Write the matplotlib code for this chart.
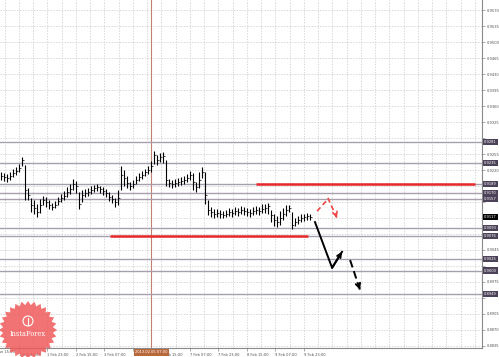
import numpy as np
import matplotlib
matplotlib.use("Agg")
import matplotlib.pyplot as plt
from matplotlib.transforms import blended_transform_factory
from matplotlib.patches import Polygon, Circle

# ---------------- data ----------------
close = [.9207, .9205, .9203, .9207, .9213, .9218, .9224, .9242, .9176, .9165,
         .9143, .9137, .9128, .9143, .9154, .9150, .9143, .9139, .9143, .9152,
         .9159, .9163, .9172, .9178, .9189, .9185, .9146, .9165, .9170, .9172,
         .9176, .9181, .9183, .9178, .9174, .9170, .9161, .9157, .9150, .9159,
         .9209, .9203, .9192, .9185, .9189, .9198, .9205, .9209, .9216, .9220,
         .9229, .9253, .9242, .9249, .9251, .9198, .9192, .9189, .9192, .9194,
         .9196, .9198, .9203, .9209, .9194, .9183, .9198, .9216, .9165, .9132,
         .9128, .9124, .9126, .9124, .9122, .9124, .9128, .9126, .9130, .9128,
         .9132, .9130, .9128, .9126, .9130, .9132, .9130, .9135, .9137, .9141,
         .9122, .9111, .9106, .9115, .9124, .9132, .9137, .9100, .9106, .9111,
         .9115, .9117, .9119, .9117]
high = [.9216, .9213, .9211, .9216, .9222, .9227, .9233, .9249, .9231, .9181,
        .9159, .9154, .9146, .9157, .9163, .9161, .9154, .9148, .9152, .9161,
        .9167, .9174, .9183, .9189, .9200, .9196, .9172, .9176, .9178, .9181,
        .9185, .9187, .9189, .9185, .9183, .9178, .9172, .9165, .9159, .9176,
        .9229, .9220, .9207, .9194, .9198, .9207, .9213, .9218, .9222, .9229,
        .9240, .9262, .9253, .9257, .9259, .9242, .9200, .9198, .9200, .9203,
        .9205, .9207, .9211, .9218, .9213, .9194, .9216, .9227, .9216, .9154,
        .9139, .9135, .9135, .9132, .9130, .9132, .9137, .9135, .9139, .9137,
        .9141, .9139, .9137, .9135, .9139, .9141, .9139, .9146, .9146, .9148,
        .9132, .9124, .9119, .9130, .9137, .9143, .9143, .9128, .9115, .9119,
        .9124, .9124, .9126, .9124]
low = [.9198, .9196, .9194, .9198, .9205, .9209, .9216, .9229, .9154, .9154,
       .9128, .9124, .9117, .9126, .9143, .9139, .9135, .9132, .9137, .9143,
       .9150, .9154, .9161, .9167, .9176, .9170, .9135, .9150, .9161, .9163,
       .9167, .9172, .9174, .9170, .9165, .9161, .9152, .9148, .9139, .9143,
       .9176, .9185, .9181, .9176, .9181, .9189, .9196, .9200, .9207, .9211,
       .9216, .9233, .9231, .9238, .9235, .9185, .9183, .9181, .9183, .9185,
       .9187, .9189, .9194, .9198, .9176, .9172, .9181, .9203, .9146, .9122,
       .9117, .9115, .9117, .9115, .9115, .9117, .9119, .9117, .9122, .9119,
       .9124, .9122, .9119, .9117, .9122, .9124, .9122, .9126, .9126, .9124,
       .9106, .9097, .9095, .9100, .9111, .9119, .9128, .9091, .9097, .9102,
       .9106, .9108, .9111, .9111]

levels = [.9281, .9235, .9189, .9170, .9157, .9093, .9076, .9025, .9000, .8949]
current_price = .9117
red_upper = .9189
red_lower = .9076
red_upper_span = (84.8, 157.8)
red_lower_span = (36.2, 102.2)

ytick_vals = [0.9570 - 0.0035 * k for k in range(22)]

time_tick_pos = [5.83 + 9.5 * k for k in range(11)]
time_tick_lab = ["1 Feb 07:00", "1 Feb 23:00", "2 Feb 15:00", "3 Feb 07:00",
                 "", "6 Feb 15:00", "7 Feb 07:00", "7 Feb 23:00",
                 "8 Feb 15:00", "9 Feb 07:00", "9 Feb 23:00"]
first_time_label = "31 Jan 15:00"
crosshair_x = 50.0
crosshair_label = "2013.02.05 07:00"

# forecast paths
black_x = [104.5, 110.2, 113.5]
black_y = [.9106, .9006, .9041]
black_dash_x = [116.2, 119.5]
black_dash_y = [.9023, .8958]
red_x1 = [105.2, 108.5]
red_y1 = [.9130, .9154]
red_x2 = [108.8, 111.8]
red_y2 = [.9159, .9115]

# ---------------- figure ----------------
W, H = 499, 357
fig = plt.figure(figsize=(W / 100, H / 100), dpi=100)
fig.patch.set_facecolor("white")
ax = fig.add_axes([0, 9 / H, 482 / W, 348 / H])
ax.set_xlim(-0.5, 160.17)
ax.set_ylim(0.88306, 0.95919)
ax.set_facecolor("white")

# grid
for yv in ytick_vals:
    ax.axhline(yv, color="#c8c8c8", lw=0.5, ls=(0, (2, 2)), zorder=0)
for xv in np.arange(5.83 - 4.75, 161, 4.75):
    ax.axvline(xv, color="#c8c8c8", lw=0.5, ls=(0, (2, 2)), zorder=0)

# crosshair
ax.axvline(crosshair_x, color="#c4806e", lw=0.8, zorder=1)

# level lines
for lv in levels:
    ax.axhline(lv, color="#a79fae", lw=1.0, zorder=2)
ax.hlines(red_upper, *red_upper_span, color="#e8282a", lw=1.8, zorder=3)
ax.hlines(red_lower, *red_lower_span, color="#e8282a", lw=1.8, zorder=3)

# bars
xs = np.arange(len(close))
ax.vlines(xs, low, high, color="black", lw=0.8, zorder=4)
ax.hlines(close, xs, xs + 0.35, color="black", lw=0.5, zorder=4)

# forecast arrows
ax.plot(black_x, black_y, color="black", lw=1.4, zorder=5)
ax.annotate("", xy=(black_x[-1], black_y[-1]), xytext=(black_x[-2], black_y[-2]),
            arrowprops=dict(arrowstyle="->", color="black", lw=1.4,
                            mutation_scale=7, shrinkA=0, shrinkB=0), zorder=5)
ax.plot(black_dash_x, black_dash_y, color="black", lw=1.4, ls=(0, (4, 2)), zorder=5)
ax.annotate("", xy=(black_dash_x[-1], black_dash_y[-1]),
            xytext=(black_dash_x[-1] - 0.4, black_dash_y[-1] + 0.0008),
            arrowprops=dict(arrowstyle="->", color="black", lw=1.4,
                            mutation_scale=8, shrinkA=0, shrinkB=0), zorder=5)
ax.plot(red_x1, red_y1, color="#f04848", lw=1.2, ls=(0, (3, 2)), zorder=5)
ax.plot(red_x2, red_y2, color="#f04848", lw=1.2, ls=(0, (3, 2)), zorder=5)
ax.annotate("", xy=(red_x2[-1], red_y2[-1]),
            xytext=(red_x2[-1] - 0.3, red_y2[-1] + 0.0006),
            arrowprops=dict(arrowstyle="->", color="#f04848", lw=1.2,
                            mutation_scale=8, shrinkA=0, shrinkB=0), zorder=5)

# axes styling
for s in ["left", "top"]:
    ax.spines[s].set_visible(False)
for s in ["right", "bottom"]:
    ax.spines[s].set_color("#8a8a8a")
    ax.spines[s].set_linewidth(0.8)

# regular right-hand price labels (those hidden behind level boxes omitted)
marked = levels + [current_price]
ax.yaxis.tick_right()
ax.set_yticks(ytick_vals)
ax.set_yticklabels([("" if min(abs(v - m) for m in marked) < 0.0011 else f"{v:.4f}")
                    for v in ytick_vals])
ax.tick_params(axis="y", labelsize=2.6, length=2, pad=1.5, colors="#8a8a8a",
               labelcolor="#505050", width=0.5)

ax.set_xticks(time_tick_pos)
ax.set_xticklabels(time_tick_lab)
ax.tick_params(axis="x", labelsize=2.6, length=2, pad=1.5, colors="#8a8a8a",
               labelcolor="#505050", width=0.5)
for lab in ax.get_xticklabels():
    lab.set_horizontalalignment("left")
ax.text(-3.2, -0.006, first_time_label,
        transform=blended_transform_factory(ax.transData, ax.transAxes),
        fontsize=2.6, color="#505050", ha="left", va="top", clip_on=False)

# highlighted level labels
ty = blended_transform_factory(ax.transAxes, ax.transData)
for lv in levels:
    ax.text(1.004, lv, f"{lv:.4f}", transform=ty, fontsize=2.6, color="white",
            ha="left", va="center", clip_on=False, zorder=10,
            bbox=dict(boxstyle="square,pad=0.35", fc="#4d4359", ec="none"))
ax.text(1.004, current_price, f"{current_price:.4f}", transform=ty, fontsize=2.6,
        color="white", ha="left", va="center", clip_on=False, zorder=11,
        bbox=dict(boxstyle="square,pad=0.35", fc="black", ec="none"))

# crosshair time label
tx = blended_transform_factory(ax.transData, ax.transAxes)
ax.text(crosshair_x, -0.006, crosshair_label, transform=tx, fontsize=2.6,
        color="white", ha="center", va="top", clip_on=False, zorder=11,
        bbox=dict(boxstyle="square,pad=0.4", fc="#b8683a", ec="none"))

# logo overlay
ov = fig.add_axes([0, 0, 1, 1], zorder=20)
ov.set_xlim(0, W)
ov.set_ylim(H, 0)
ov.axis("off")
ov.patch.set_alpha(0)
cx, cy = 28, 330
n = 28
ang = np.linspace(0, 2 * np.pi, 2 * n, endpoint=False)
rad = np.where(np.arange(2 * n) % 2 == 0, 29, 25)
pts = np.column_stack([cx + rad * np.cos(ang), cy + rad * np.sin(ang)])
ov.add_patch(Polygon(pts, closed=True, fc="#f05a5a", ec="none", alpha=0.85))
ov.add_patch(Circle((cx, cy - 9), 5, fc="none", ec="white", lw=0.8))
ov.plot([cx, cx], [cy - 12, cy - 5], color="white", lw=0.8)
ov.text(cx, cy + 4, "InstaForex", color="white", fontsize=4.8,
        ha="center", va="center", family="DejaVu Serif")

fig.savefig("out.png", dpi=100)
